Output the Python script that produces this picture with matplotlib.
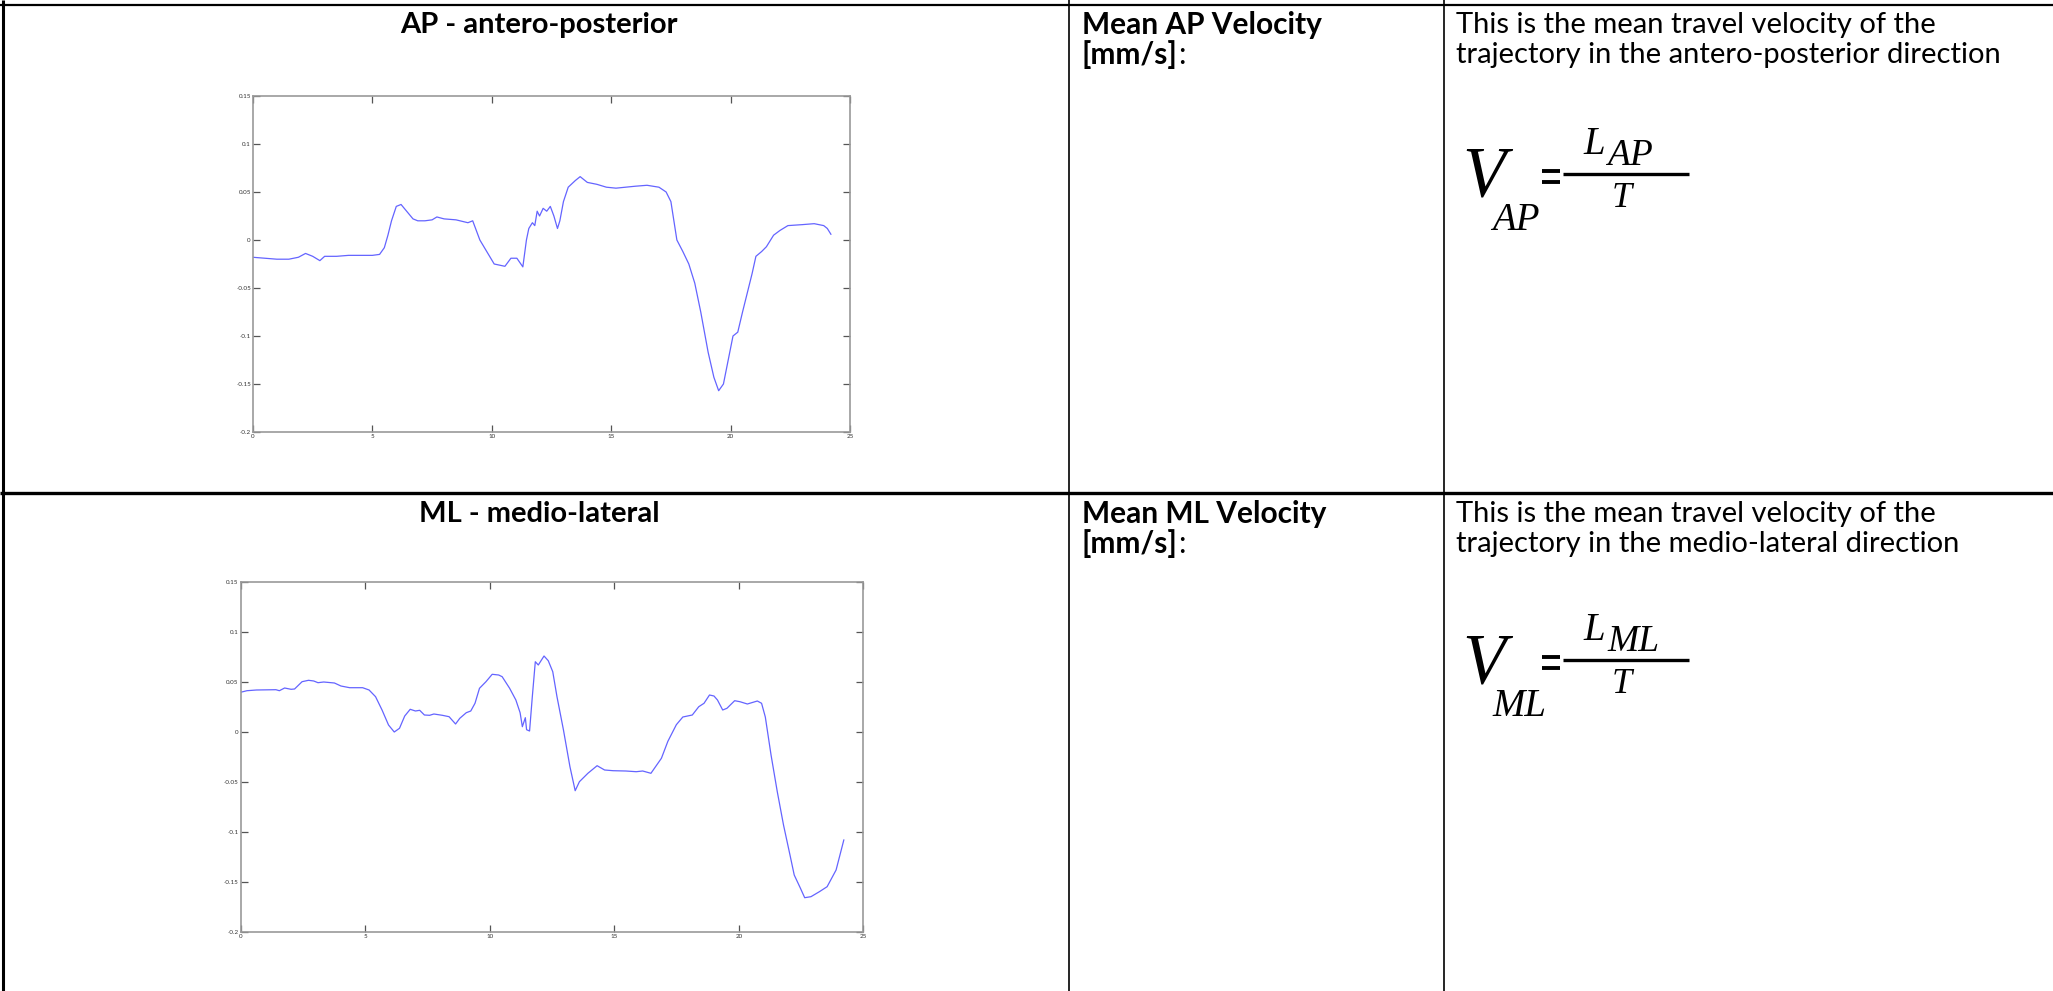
import matplotlib.pyplot as plt
from matplotlib.lines import Line2D
from matplotlib.text import Annotation

W, H = 2053, 991

# AP trace (time in s, displacement)
ap_t = [0, 0.5, 1.0, 1.5, 1.9, 2.2, 2.5, 2.8, 3.0, 3.5, 4.0, 4.5, 5.0, 5.3, 5.5, 5.65,
        5.8, 6.0, 6.2, 6.4, 6.7, 6.9, 7.2, 7.5, 7.7, 8.0, 8.5, 9.0, 9.2, 9.5, 9.8, 10.1,
        10.55, 10.8, 11.05, 11.3, 11.45, 11.55, 11.7, 11.8, 11.9, 12.0, 12.15, 12.3, 12.45,
        12.6, 12.75, 12.85, 13.0, 13.2, 13.5, 13.7, 14.0, 14.4, 14.8, 15.2, 15.6, 16.0, 16.5,
        17.0, 17.3, 17.5, 17.75, 18.0, 18.25, 18.5, 18.75, 19.06, 19.3, 19.5, 19.7, 19.9,
        20.1, 20.3, 20.5, 20.7, 20.9, 21.06, 21.3, 21.5, 21.8, 22.07, 22.4, 23.0, 23.5, 23.9,
        24.05, 24.2]
ap_v = [-0.018, -0.019, -0.02, -0.02, -0.018, -0.014, -0.017, -0.0215, -0.017, -0.017,
        -0.016, -0.016, -0.016, -0.015, -0.008, 0.005, 0.02, 0.035, 0.037, 0.031, 0.022,
        0.02, 0.02, 0.021, 0.024, 0.022, 0.021, 0.018, 0.02, 0.0, -0.0125, -0.025, -0.0274,
        -0.019, -0.019, -0.028, 0.0, 0.012, 0.018, 0.015, 0.03, 0.025, 0.033, 0.03, 0.035,
        0.025, 0.012, 0.02, 0.04, 0.055, 0.062, 0.066, 0.06, 0.058, 0.055, 0.054, 0.055,
        0.056, 0.057, 0.055, 0.05, 0.04, 0.0, -0.012, -0.025, -0.045, -0.075, -0.117,
        -0.143, -0.157, -0.15, -0.125, -0.10, -0.096, -0.075, -0.055, -0.035, -0.017,
        -0.012, -0.007, 0.005, 0.01, 0.015, 0.016, 0.017, 0.015, 0.012, 0.006]

# ML trace
ml_t = [0, 0.26, 0.64, 1.42, 1.56, 1.77, 2.03, 2.17, 2.47, 2.73, 2.94, 3.11, 3.34, 3.77,
        4.03, 4.38, 4.9, 5.16, 5.42, 5.68, 5.94, 6.17, 6.38, 6.59, 6.81, 7.02, 7.19, 7.38,
        7.59, 7.76, 8.1, 8.37, 8.63, 8.8, 9.06, 9.24, 9.41, 9.59, 9.85, 10.1, 10.36, 10.5,
        10.8, 11.05, 11.22, 11.31, 11.43, 11.48, 11.6, 11.71, 11.83, 11.95, 12.18, 12.35,
        12.53, 12.7, 12.96, 13.22, 13.43, 13.6, 13.94, 14.31, 14.61, 14.95, 15.46, 15.88,
        16.14, 16.47, 16.89, 17.15, 17.49, 17.75, 18.13, 18.39, 18.6, 18.82, 19.0, 19.14,
        19.35, 19.52, 19.83, 20.04, 20.34, 20.74, 20.91, 21.06, 21.29, 21.54, 21.79, 22.05,
        22.22, 22.47, 22.64, 22.89, 23.23, 23.54, 23.9, 24.21]
ml_v = [0.0397, 0.0413, 0.042, 0.0423, 0.0413, 0.044, 0.0427, 0.043, 0.0503, 0.0517, 0.051,
        0.0493, 0.05, 0.049, 0.046, 0.0443, 0.0443, 0.042, 0.0353, 0.022, 0.007, 0.0,
        0.0037, 0.016, 0.0227, 0.021, 0.0217, 0.017, 0.0167, 0.018, 0.0167, 0.0153, 0.008,
        0.0137, 0.0193, 0.021, 0.0287, 0.0437, 0.0503, 0.0577, 0.057, 0.0553, 0.0437, 0.032,
        0.0193, 0.0053, 0.0143, 0.0023, 0.001, 0.0353, 0.0703, 0.067, 0.076, 0.0713, 0.0603,
        0.0353, 0.002, -0.0347, -0.0587, -0.0497, -0.0413, -0.0337, -0.038, -0.0387, -0.039,
        -0.0397, -0.039, -0.0413, -0.0263, -0.0093, 0.0073, 0.015, 0.017, 0.0253, 0.0287,
        0.037, 0.036, 0.032, 0.022, 0.0237, 0.0313, 0.0303, 0.028, 0.031, 0.0287, 0.015,
        -0.023, -0.0597, -0.093, -0.123, -0.143, -0.1563, -0.1657, -0.1647, -0.1597, -0.1547,
        -0.138, -0.108]

x_ticks = [0, 5, 10, 15, 20, 25]
y_ticks = [0.15, 0.1, 0.05, 0, -0.05, -0.1, -0.15, -0.2]
y_tick_labels = ['0.15', '0.1', '0.05', '0', '-0.05', '-0.1', '-0.15', '-0.2']

titles = ['AP - antero-posterior', 'ML - medio-lateral']
names = ['Mean AP Velocity', 'Mean ML Velocity']
unit = '[mm/s]'
desc = [['This is the mean travel velocity of the', 'trajectory in the antero-posterior direction'],
        ['This is the mean travel velocity of the', 'trajectory in the medio-lateral direction']]
subs = ['AP', 'ML']

plt.rcParams['font.family'] = 'Lato'
fig = plt.figure(figsize=(W / 100, H / 100), dpi=100)


def fx(x):
    return x / W


def fy(y):
    return 1 - y / H


def seg(x0, y0, x1, y1, lw=1.5):
    fig.add_artist(Line2D([fx(x0), fx(x1)], [fy(y0), fy(y1)], transform=fig.transFigure,
                          color='black', lw=lw, solid_capstyle='butt'))


# table grid
seg(0, 5, W, 5, 1.6)
seg(0, 493, W, 493, 2.4)
seg(3, 0, 3, H, 2.2)
seg(1069, 0, 1069, H, 1.2)
seg(1444, 0, 1444, H, 1.2)

# plots: left, top, right, bottom in pixels
boxes = [(253, 96, 850, 432), (240.5, 582, 863.5, 932)]
traces = [(ap_t, ap_v), (ml_t, ml_v)]
for (l, t, r, b), (xs, ys) in zip(boxes, traces):
    ax = fig.add_axes([fx(l), fy(b), (r - l) / W, (b - t) / H])
    ax.plot(xs, ys, color='#6464ff', lw=0.9)
    ax.set_xlim(0, 25)
    ax.set_ylim(-0.2, 0.15)
    ax.set_xticks(x_ticks)
    ax.set_xticklabels([str(v) for v in x_ticks])
    ax.set_yticks(y_ticks)
    ax.set_yticklabels(y_tick_labels)
    ax.tick_params(direction='in', top=True, right=True, length=5, width=0.9,
                   color='#555555', labelsize=4.5, labelcolor='#333333', pad=1.5)
    for s in ax.spines.values():
        s.set_color('#999999')
        s.set_linewidth(1.2)

serif = dict(family='Liberation Serif', style='italic', color='black')

# text cells
for i in range(2):
    off = 489 * i
    fig.text(fx(539), fy(25 + off), titles[i], ha='center', va='center',
             fontsize=21, fontweight='bold')
    fig.text(fx(1082), fy(25 + off), names[i], ha='left', va='center',
             fontsize=21.5, fontweight='bold')
    u = fig.text(fx(1082), fy(55 + off), unit, ha='left', va='center',
                 fontsize=21.5, fontweight='bold')
    fig.add_artist(Annotation(':', xy=(1, 0), xycoords=u, ha='left', va='bottom',
                              fontsize=21.5))
    fig.text(fx(1456), fy(25 + off), desc[i][0], ha='left', va='center', fontsize=21)
    fig.text(fx(1456), fy(55 + off), desc[i][1], ha='left', va='center', fontsize=21)

    # formula V_xx = L_xx / T
    off = 486 * i
    fig.text(fx(1462), fy(196 + off), 'V', ha='left', va='baseline', fontsize=51, **serif)
    fig.text(fx(1492), fy(230 + off), subs[i], ha='left', va='baseline', fontsize=28, **serif)
    seg(1542, 171 + off, 1560, 171 + off, 2.8)
    seg(1542, 182 + off, 1560, 182 + off, 2.8)
    seg(1563, 174 + off, 1689, 174 + off, 2.4)
    fig.text(fx(1583), fy(154 + off), 'L', ha='left', va='baseline', fontsize=28, **serif)
    fig.text(fx(1607), fy(165 + off), subs[i], ha='left', va='baseline', fontsize=27, **serif)
    fig.text(fx(1622), fy(207 + off), 'T', ha='center', va='baseline', fontsize=26, **serif)

fig.savefig('out.png', dpi=100)
